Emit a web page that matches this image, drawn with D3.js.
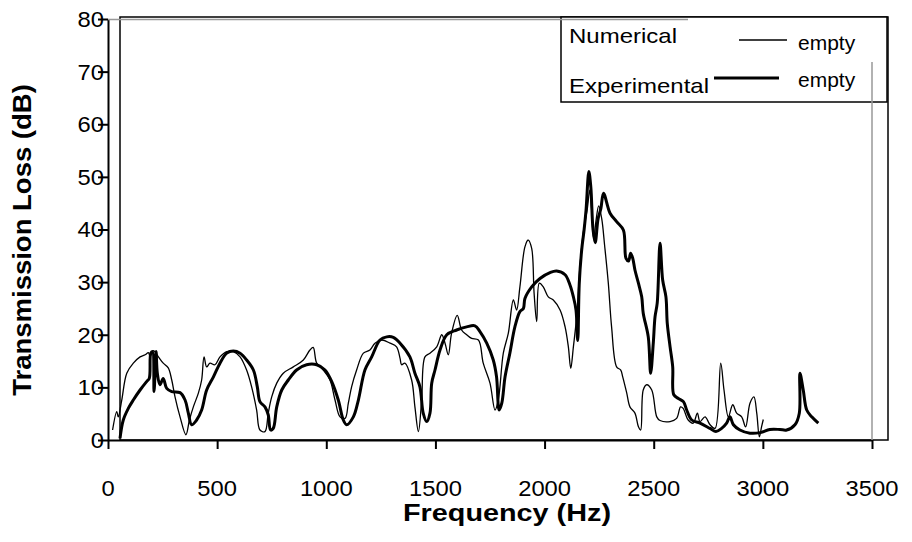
<!DOCTYPE html>
<html>
<head>
<meta charset="utf-8">
<script src="https://cdn.jsdelivr.net/npm/d3@7/dist/d3.min.js"></script>
<style>
  body { margin: 0; background: #fff; }
  text { font-family: "Liberation Sans", Arial, sans-serif; fill: #000; }
</style>
</head>
<body>
<svg id="chart" width="912" height="542"></svg>
<script>
// numerical curve (thin line)
const numFreq = [21, 40, 47, 63, 86, 116, 147, 170, 185, 193, 208, 231, 253, 276, 292, 307, 330, 357, 373, 391,
  414, 429, 440, 452, 467, 490, 513, 544, 574, 605, 635, 658, 681, 696, 719, 734, 750, 773, 803, 849,
  895, 925, 940, 956, 986, 1017, 1040, 1063, 1086, 1101, 1116, 1139, 1170, 1200, 1223, 1254, 1292, 1322, 1338, 1345,
  1360, 1391, 1406, 1422, 1437, 1452, 1475, 1506, 1529, 1544, 1559, 1574, 1600, 1620, 1643, 1666, 1697, 1719, 1750, 1773,
  1788, 1811, 1834, 1857, 1872, 1887, 1910, 1925, 1941, 1952, 1964, 1976, 1994, 2017, 2040, 2071, 2094, 2109, 2120, 2132,
  2147, 2162, 2177, 2196, 2207, 2215, 2225, 2236, 2248, 2262, 2275, 2292, 2307, 2330, 2349, 2358, 2376, 2391, 2414, 2430,
  2440, 2452, 2468, 2491, 2514, 2529, 2575, 2605, 2623, 2635, 2658, 2681, 2700, 2712, 2735, 2758, 2781, 2807, 2822, 2842,
  2862, 2880, 2903, 2921, 2941, 2959, 2972, 2984, 2994, 3002];
const numTL = [1.9, 5.4, 4.4, 7.6, 12.7, 14.6, 15.8, 16.2, 16.6, 15.9, 17.0, 15.8, 14.6, 13.7, 11.4, 8.2, 4.4, 1.0, 3.8, 6.3,
  8.9, 11.4, 15.8, 13.9, 14.6, 14.3, 15.8, 16.8, 16.8, 15.8, 13.3, 10.1, 5.7, 1.9, 1.6, 5.1, 8.2, 10.8, 12.7, 13.9,
  15.2, 17.1, 17.6, 14.6, 13.3, 11.4, 7.6, 4.4, 4.1, 7.0, 10.1, 13.3, 16.5, 17.1, 18.4, 19.0, 18.4, 17.7, 15.5, 14.3,
  14.6, 11.4, 6.3, 1.6, 7.6, 15.8, 16.5, 17.7, 20.0, 18.4, 16.2, 20.3, 23.7, 20.9, 20.0, 19.3, 19.0, 14.6, 10.8, 5.7,
  7.6, 16.5, 20.3, 26.6, 24.7, 29.1, 36.7, 38.0, 36.4, 27.9, 22.5, 29.8, 29.1, 27.2, 26.6, 24.7, 21.5, 17.7, 13.6, 17.7,
  23.4, 32.9, 39.3, 44.0, 47.5, 44.0, 38.3, 41.8, 44.5, 42.0, 37.0, 29.8, 21.5, 13.9, 13.3, 12.0, 9.0, 6.3, 5.1, 2.5,
  1.9, 9.5, 10.5, 9.5, 4.4, 3.7, 3.5, 4.1, 6.3, 6.0, 3.8, 3.2, 5.1, 3.5, 4.4, 2.9, 2.2, 14.6, 9.5, 4.4,
  6.7, 5.1, 4.4, 2.5, 7.0, 8.2, 5.1, 0.6, 2.5, 3.9];

// experimental curve (thick line)
const expFreq = [55, 70, 93, 116, 147, 177, 189, 196, 204, 211, 220, 226, 238, 253, 269, 292, 330, 353, 368, 383,
  406, 429, 452, 483, 513, 544, 574, 605, 635, 666, 684, 696, 719, 734, 745, 757, 773, 796, 826, 864,
  910, 956, 994, 1025, 1055, 1078, 1093, 1124, 1147, 1177, 1208, 1246, 1277, 1307, 1338, 1383, 1406, 1429, 1444, 1460,
  1475, 1483, 1498, 1521, 1552, 1597, 1643, 1681, 1704, 1735, 1765, 1780, 1792, 1804, 1819, 1841, 1864, 1887, 1903, 1910,
  1941, 1979, 2025, 2055, 2094, 2116, 2132, 2144, 2152, 2159, 2170, 2181, 2190, 2203, 2212, 2222, 2232, 2245, 2258, 2270,
  2300, 2330, 2361, 2373, 2385, 2394, 2404, 2414, 2430, 2445, 2452, 2475, 2486, 2498, 2506, 2516, 2529, 2541, 2556, 2562,
  2575, 2587, 2592, 2613, 2636, 2651, 2674, 2712, 2758, 2785, 2811, 2834, 2849, 2865, 2895, 2941, 2987, 3032, 3078, 3109,
  3147, 3167, 3170, 3185, 3201, 3224, 3254];
const expTL = [0.3, 3.8, 6.0, 7.6, 9.5, 11.1, 11.7, 16.5, 16.8, 9.2, 16.8, 12.7, 10.5, 11.7, 9.8, 9.2, 9.0, 7.6, 5.1, 2.9,
  3.8, 5.7, 9.5, 12.0, 14.6, 16.5, 16.9, 16.5, 15.2, 13.3, 10.1, 7.3, 6.3, 4.8, 1.9, 2.2, 6.3, 9.5, 11.4, 13.3,
  14.3, 14.3, 13.3, 11.1, 7.6, 3.8, 2.9, 4.4, 7.6, 13.3, 15.8, 19.0, 19.6, 19.5, 18.4, 15.8, 12.7, 10.1, 5.1, 3.5,
  5.1, 10.8, 13.3, 17.1, 20.0, 20.9, 21.5, 21.7, 20.6, 18.4, 15.2, 12.0, 5.7, 7.0, 12.0, 16.5, 21.5, 24.4, 25.0, 26.9,
  29.1, 30.7, 31.8, 32.1, 31.4, 29.5, 27.2, 24.7, 18.9, 29.8, 36.1, 39.9, 43.7, 51.0, 48.0, 40.0, 37.5, 42.0, 44.0, 46.9,
  43.1, 41.5, 39.9, 34.5, 34.0, 35.5, 34.5, 32.3, 29.8, 27.2, 24.1, 19.6, 12.7, 18.4, 23.4, 26.0, 37.4, 30.4, 27.2, 22.2,
  17.7, 13.9, 8.6, 7.9, 7.3, 5.7, 3.8, 3.2, 2.2, 1.6, 2.2, 3.2, 4.4, 2.9, 1.9, 1.3, 1.4, 2.0, 2.0, 1.9,
  2.9, 5.1, 12.7, 9.5, 5.7, 4.4, 3.2];

const xTicks = [0, 500, 1000, 1500, 2000, 2500, 3000, 3500];
const yTicks = [0, 10, 20, 30, 40, 50, 60, 70, 80];
const seriesNames = ["Numerical", "Experimental"];
const legendTag = "empty";
const xTitle = "Frequency (Hz)";
const yTitle = "Transmission Loss (dB)";

const svg = d3.select("#chart");
const sx = 1.2; // the reference text is drawn a little wide

const x = d3.scaleLinear().domain([0, 3500]).range([108, 872]);
const y = d3.scaleLinear().domain([0, 80]).range([440, 19]);

function label(str, px, py, opt) {
  opt = opt || {};
  return svg.append("text")
    .attr("transform", `translate(${px},${py}) rotate(${opt.rot || 0}) scale(${opt.sx || sx},1)`)
    .attr("text-anchor", opt.anchor || "start")
    .attr("dy", opt.dy || 0)
    .style("font-size", (opt.size || 20) + "px")
    .style("font-weight", opt.bold ? "bold" : "normal")
    .text(str);
}

// outer frame
svg.append("rect")
  .attr("x", 120).attr("y", 17).attr("width", 768).attr("height", 423)
  .attr("fill", "none").attr("stroke", "#000").attr("stroke-width", 1.5);

// axes
const yAxis = svg.append("g")
  .attr("transform", "translate(108,0)")
  .call(d3.axisLeft(y).tickValues(yTicks).tickSize(10).tickSizeOuter(0).tickFormat(""));
const xAxis = svg.append("g")
  .attr("transform", "translate(0,440)")
  .call(d3.axisBottom(x).tickValues(xTicks).tickSize(9).tickSizeOuter(0).tickFormat(""));
[yAxis, xAxis].forEach(g => {
  g.selectAll("path, line").attr("stroke", "#000").attr("stroke-width", 2);
});

yTicks.forEach(d => label(d, 104, y(d), { anchor: "end", dy: "0.36em", size: 22, sx: 1.08 }));
xTicks.forEach(d => label(d, x(d), 496, { anchor: "middle", size: 22, sx: 1.08 }));

label(xTitle, 507, 521, { anchor: "middle", bold: true, size: 24 });
label(yTitle, 31, 240, { anchor: "middle", bold: true, size: 25, rot: -90, sx: 1.1 });

// curves
const line = d3.line()
  .x(d => x(d[0]))
  .y(d => y(d[1]))
  .curve(d3.curveCatmullRom.alpha(0.5));

svg.append("path")
  .datum(d3.zip(numFreq, numTL))
  .attr("d", line)
  .attr("fill", "none").attr("stroke", "#000").attr("stroke-width", 1.3)
  .attr("stroke-linejoin", "round");

svg.append("path")
  .datum(d3.zip(expFreq, expTL))
  .attr("d", line)
  .attr("fill", "none").attr("stroke", "#000").attr("stroke-width", 3)
  .attr("stroke-linejoin", "round");

// legend
svg.append("rect")
  .attr("x", 561).attr("y", 17).attr("width", 326).attr("height", 85)
  .attr("fill", "#fff").attr("stroke", "#000").attr("stroke-width", 1.5);
label(seriesNames[0], 569, 43);
label(seriesNames[1], 569, 93);
svg.append("line").attr("x1", 739).attr("x2", 787).attr("y1", 40).attr("y2", 40)
  .attr("stroke", "#000").attr("stroke-width", 1.3);
svg.append("line").attr("x1", 714).attr("x2", 779).attr("y1", 78).attr("y2", 78)
  .attr("stroke", "#000").attr("stroke-width", 3);
label(legendTag, 798, 50, { sx: 1.05 });
label(legendTag, 798, 87, { sx: 1.05 });

// grey plot-area borders
svg.append("line").attr("x1", 108).attr("x2", 688).attr("y1", 19.5).attr("y2", 19.5)
  .attr("stroke", "#999").attr("stroke-width", 1.5);
svg.append("line").attr("x1", 872).attr("x2", 872).attr("y1", 62).attr("y2", 440)
  .attr("stroke", "#999").attr("stroke-width", 1.5);
</script>
</body>
</html>
